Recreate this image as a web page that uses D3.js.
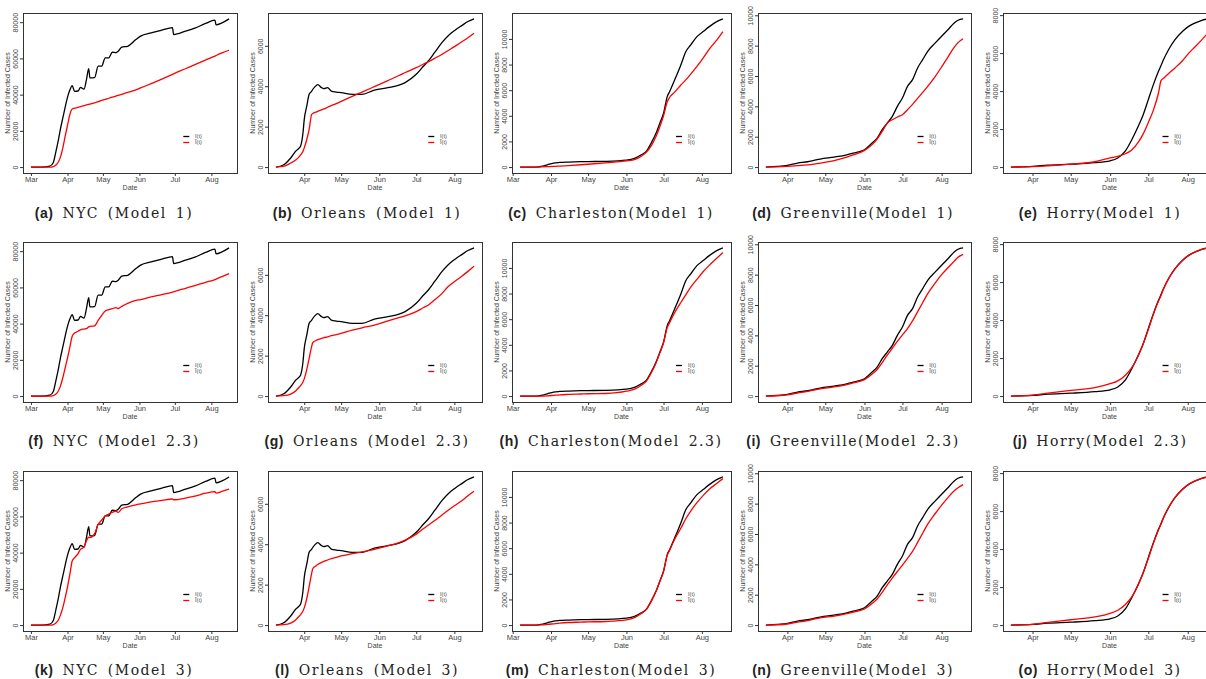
<!DOCTYPE html>
<html lang="en">
<head>
<meta charset="UTF-8">
<title>Infected cases: observed vs model</title>
<script src="https://d3js.org/d3.v7.min.js"></script>
<style>
  body { margin: 0; background: #fff; overflow: hidden; }
  svg { display: block; }
  .caption { font-family: "DejaVu Serif", serif; font-size: 14px; letter-spacing: 1.5px; word-spacing: 3px; fill: #222; }
</style>
</head>
<body>
<svg id="fig" width="1206" height="679"></svg>
<script>
// ---- data ----
const models = ["Model 1", "Model 2.3", "Model 3"];
const legendLabels = ["I(t)", "Î(t)"];

// NYC
const nycDates = ["3/1","3/10","3/17","3/20","3/22","3/24","3/26","3/28","3/30","4/1","4/3","4/5","4/7","4/10","4/12","4/15","4/17","4/19","4/20","4/24","4/27","4/30","5/3","5/6","5/9","5/12","5/14","5/17","5/22","5/29","6/2","6/11","6/20","6/29","6/30","7/10","7/18","7/27","8/4","8/5","8/10","8/16"];
const nycObs = [0,0,500,2500,8000,14000,21000,27000,33000,38500,42500,45000,41800,42000,44000,43000,48000,54400,49200,49400,55700,55700,60300,60300,63400,63200,64000,66200,66700,70400,72300,74100,75600,77000,73200,75000,76700,79300,81100,78500,79600,81800];
const nycM1 = [0,0,0,300,1000,2500,5500,10500,17000,23000,29000,32100,32500,33000,33400,33900,34300,34600,34800,35500,36100,36800,37400,38000,38600,39200,39600,40200,41200,42600,43700,46100,48600,51200,51500,54300,56600,59100,61300,61600,63000,64500];
const nycM23 = [0,0,0,300,1000,2500,5500,10000,15500,21000,27000,33000,34800,35800,36600,37000,37200,38200,38500,38800,41800,44600,47000,47700,48300,48800,48300,49500,51200,52800,53300,54800,56000,57400,57600,59500,61000,62800,64300,64600,66000,67600];
const nycM3 = [0,0,0,300,1000,2500,5500,9500,15000,21000,28000,35400,37200,39500,41800,43000,46500,48500,48300,50500,55500,58000,60300,61300,62200,63000,62200,64200,65200,66400,66900,68000,68800,69600,69200,70100,71200,72800,73700,72900,73800,75000];
const nycTicks = [0, 20000, 40000, 60000, 80000];

// Orleans
const orleansDates = ["3/9","3/15","3/21","3/25","3/28","3/29","3/31","4/1","4/3","4/5","4/7","4/8","4/11","4/12","4/15","4/17","4/20","4/23","4/27","5/1","5/10","5/18","5/28","6/8","6/17","6/22","7/1","7/7","7/11","7/16","7/22","7/27","8/1","8/7","8/12","8/17"];
const orleansObs = [0,100,450,780,950,1030,1700,2350,3000,3600,3750,3850,4050,4080,3930,3880,3930,3760,3710,3680,3600,3600,3810,3930,4050,4180,4590,5000,5260,5670,6170,6500,6750,7000,7200,7330];
const orleansM1 = [0,30,200,350,520,600,780,950,1350,1860,2600,2650,2730,2760,2830,2880,2960,3040,3140,3250,3500,3710,3980,4280,4530,4680,4920,5100,5220,5380,5580,5770,5960,6200,6400,6620];
const orleansM23 = [0,20,100,250,450,520,700,850,1300,1860,2450,2650,2760,2790,2850,2890,2930,2990,3040,3100,3260,3380,3510,3720,3880,3970,4180,4380,4510,4760,5080,5420,5660,5930,6170,6420];
const orleansM3 = [0,20,100,250,450,520,700,850,1300,1900,2550,2800,2950,3000,3100,3150,3220,3290,3350,3420,3530,3620,3750,3920,4080,4200,4500,4780,4950,5170,5450,5680,5900,6150,6400,6620];
const orleansTicks = [0, 2000, 4000, 6000];

// Charleston
const charlestonDates = ["3/7","3/20","3/24","3/29","4/3","4/8","4/15","4/25","5/1","5/15","6/1","6/8","6/13","6/17","6/21","6/25","6/28","7/1","7/4","7/6","7/10","7/15","7/19","7/23","7/28","8/2","8/7","8/13","8/18"];
const charlestonObs = [0,0,50,180,310,360,390,420,430,450,540,700,960,1220,1870,2650,3430,4200,5500,5900,6800,7970,9000,9530,10180,10570,10960,11350,11560];
const charlestonM1 = [0,0,10,30,50,80,120,180,220,330,480,600,850,1150,1650,2400,3150,4000,5100,5450,5850,6400,6800,7250,7850,8500,9200,9900,10570];
const charlestonM23 = [0,0,0,20,60,100,130,160,180,200,380,560,850,1150,1800,2600,3350,4150,5350,5750,6500,7300,7900,8500,9100,9700,10200,10750,11200];
const charlestonM3 = [0,0,10,50,100,150,200,230,250,280,400,600,900,1200,1850,2650,3400,4200,5450,5850,6700,7550,8300,8900,9550,10100,10600,11050,11430];
const charlestonTicks = [0, 2000, 4000, 6000, 8000, 10000];

// Greenville
const greenvilleDates = ["3/15","3/24","4/1","4/9","4/17","4/22","4/27","5/8","5/18","5/23","6/1","6/7","6/11","6/15","6/19","6/23","6/27","7/1","7/5","7/9","7/13","7/17","7/21","7/27","8/1","8/6","8/11","8/14","8/18"];
const greenvilleObs = [0,40,110,260,350,440,530,660,810,920,1140,1580,1910,2460,2900,3340,4000,4550,5320,5760,6530,7080,7630,8180,8620,9050,9490,9670,9760];
const greenvilleM1 = [0,10,40,90,150,200,260,420,650,800,1100,1480,1850,2350,2900,3120,3300,3450,3780,4130,4530,4920,5320,5980,6600,7250,7900,8200,8450];
const greenvilleM23 = [0,20,80,200,310,400,480,600,760,870,1080,1450,1750,2200,2700,3150,3600,4030,4450,4950,5550,6150,6750,7460,8000,8450,8890,9150,9340];
const greenvilleM3 = [0,20,70,190,300,390,470,590,750,860,1060,1420,1720,2150,2650,3100,3530,3950,4400,4850,5450,6050,6650,7350,7900,8400,8850,9050,9250];
const greenvilleTicks = [0, 2000, 4000, 6000, 8000, 10000];

// Horry
const horryDates = ["3/15","4/1","4/13","5/1","5/20","6/1","6/7","6/13","6/18","6/23","6/27","7/1","7/5","7/9","7/11","7/13","7/17","7/22","7/28","8/2","8/7","8/12","8/17"];
const horryObs = [0,35,100,150,230,330,480,850,1440,2140,2760,3550,4340,5040,5350,5660,6190,6710,7150,7420,7590,7730,7800];
const horryM1 = [0,20,60,150,280,480,560,700,900,1300,1750,2350,3000,3900,4550,4680,4930,5220,5610,6010,6350,6700,7070];
const horryM23 = [0,50,150,300,450,650,800,1100,1500,2100,2750,3500,4300,5000,5300,5650,6200,6700,7150,7420,7590,7720,7800];
const horryM3 = [0,40,140,280,430,620,780,1080,1480,2100,2750,3500,4300,5000,5320,5660,6200,6720,7160,7430,7600,7730,7800];
const horryTicks = [0, 2000, 4000, 6000, 8000];

const counties = [
  { name: "NYC", sep: " ", dates: nycDates, obs: nycObs, fits: [nycM1, nycM23, nycM3], ticks: nycTicks },
  { name: "Orleans", sep: " ", dates: orleansDates, obs: orleansObs, fits: [orleansM1, orleansM23, orleansM3], ticks: orleansTicks },
  { name: "Charleston", sep: "", dates: charlestonDates, obs: charlestonObs, fits: [charlestonM1, charlestonM23, charlestonM3], ticks: charlestonTicks },
  { name: "Greenville", sep: "", dates: greenvilleDates, obs: greenvilleObs, fits: [greenvilleM1, greenvilleM23, greenvilleM3], ticks: greenvilleTicks },
  { name: "Horry", sep: "", dates: horryDates, obs: horryObs, fits: [horryM1, horryM23, horryM3], ticks: horryTicks }
];

// ---- layout ----
const colLeft = [23, 268, 512, 758, 1003];
const colWidth = [214, 214, 219, 213, 213];
const captionX = [114, 367, 611, 853, 1100];
const rowTop = [13, 242, 471];
const captionY = [218, 446, 675];
const boxH = 160;
const axisFont = '"Liberation Sans", Arial, sans-serif';

const parseDay = s => d3.timeParse("%m/%d/%Y")(s + "/2020");
const svg = d3.select("#fig");

function drawPanel(c, fit, r, k, letter, model) {
  const left = colLeft[k], w = colWidth[k], top = rowTop[r], bottom = top + boxH;
  const dates = c.dates.map(parseDay);
  const [d0, d1] = d3.extent(dates);
  const dPad = (d1 - d0) * 0.04;
  const x = d3.scaleTime()
    .domain([new Date(+d0 - dPad), new Date(+d1 + dPad)])
    .range([left, left + w]);
  const [v0, v1] = d3.extent([...c.obs, ...fit]);
  const vPad = (v1 - v0) * 0.04;
  const y = d3.scaleLinear().domain([v0 - vPad, v1 + vPad]).range([bottom, top]);

  const g = svg.append("g");

  // y axis, labels parallel to the axis
  const ya = g.append("g").attr("transform", `translate(${left},0)`)
    .call(d3.axisLeft(y).tickValues(c.ticks).tickSize(3).tickFormat(d3.format("d")));
  ya.select(".domain").remove();
  ya.selectAll("line").attr("stroke", "#333");
  ya.selectAll("text")
    .attr("transform", "rotate(-90)")
    .attr("text-anchor", "middle")
    .attr("x", 0).attr("y", -5).attr("dy", null)
    .attr("fill", "#444")
    .style("font", `7px ${axisFont}`);

  // x axis, one tick per month
  const xa = g.append("g").attr("transform", `translate(0,${bottom})`)
    .call(d3.axisBottom(x).ticks(d3.timeMonth.every(1)).tickFormat(d3.timeFormat("%b"))
      .tickSize(3).tickPadding(1));
  xa.select(".domain").remove();
  xa.selectAll("line").attr("stroke", "#333");
  xa.selectAll("text").attr("fill", "#444").style("font", `7.5px ${axisFont}`);

  g.append("text")
    .attr("transform", `translate(${left - 13.5},${top + boxH / 2}) rotate(-90)`)
    .attr("text-anchor", "middle")
    .attr("fill", "#444")
    .style("font", `7px ${axisFont}`)
    .text("Number of Infected Cases");

  g.append("text")
    .attr("x", left + w / 2).attr("y", bottom + 16.5)
    .attr("text-anchor", "middle")
    .attr("fill", "#444")
    .style("font", `7px ${axisFont}`)
    .text("Date");

  // curves
  const line = d3.line()
    .x((d, i) => x(dates[i]))
    .y(d => y(d))
    .curve(d3.curveMonotoneX);

  g.append("path").datum(c.obs)
    .attr("d", line).attr("fill", "none").attr("stroke", "#000").attr("stroke-width", 1.3);
  g.append("path").datum(fit)
    .attr("d", line).attr("fill", "none").attr("stroke", "#ff0000").attr("stroke-width", 1.3);

  // box
  g.append("rect")
    .attr("x", left + 0.5).attr("y", top + 0.5)
    .attr("width", w).attr("height", boxH)
    .attr("fill", "none").attr("stroke", "#333").attr("stroke-width", 1);

  // legend
  const lx = left + 0.749 * w;
  const tx = left + 0.804 * w;
  ["#000", "#ff0000"].forEach((col, i) => {
    const ly = top + 123.5 + i * 6;
    g.append("line").attr("x1", lx).attr("x2", lx + 6).attr("y1", ly).attr("y2", ly)
      .attr("stroke", col).attr("stroke-width", 1.3);
    g.append("text").attr("x", tx).attr("y", ly).attr("dy", "0.35em")
      .attr("fill", "#444")
      .style("font", `5.5px ${axisFont}`)
      .text(legendLabels[i]);
  });

  // caption
  const cap = svg.append("text").attr("class", "caption")
    .attr("x", captionX[k]).attr("y", captionY[r]).attr("text-anchor", "middle");
  cap.append("tspan")
    .style("font-family", '"Liberation Sans", sans-serif')
    .style("font-weight", "bold")
    .style("letter-spacing", "0.5px")
    .text(`(${letter})`);
  cap.append("tspan").text(` ${c.name}${c.sep}(${model})`);
}

const letters = "abcdefghijklmno";
models.forEach((model, r) => {
  counties.forEach((c, k) => {
    drawPanel(c, c.fits[r], r, k, letters[r * 5 + k], model);
  });
});
</script>
</body>
</html>
